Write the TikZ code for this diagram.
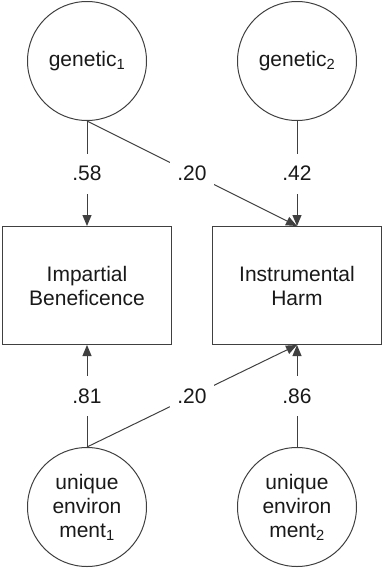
\documentclass[tikz,border=0pt]{standalone}
\usepackage{fontspec}
\setmainfont{Liberation Sans}
\usetikzlibrary{arrows.meta, positioning}

\begin{document}
\begin{tikzpicture}[
x=1pt, y=1pt,
node distance=105pt and 90pt,
>={Triangle[length=11pt, width=9pt]},
every node/.style={font=\fontsize{21}{24}\selectfont, text=black!90},
latent/.style={circle, draw=black!75, line width=1pt, minimum size=119pt, inner sep=0pt, align=center},
observed/.style={rectangle, draw=black!75, line width=1pt, minimum width=169pt, minimum height=118pt, align=center},
path/.style={->, draw=black!75, line width=1pt},
coef/.style={fill=white, text height=14pt, text depth=0pt, inner xsep=7pt, inner ysep=13pt}
]

\useasboundingbox (0,0) rectangle (383,-568);

% --- Nodes ---
\node[latent] (gen1) at (87,-61) {genetic\textsubscript{1}};
\node[latent, right=of gen1] (gen2) {genetic\textsubscript{2}};
\node[observed, below=of gen1] (ib) {Impartial\\Beneficence};
\node[observed, below=of gen2] (ih) {Instrumental\\Harm};
\node[latent, below=102pt of ib] (ue1) {unique\\environ\\ment\textsubscript{1}};
\node[latent, below=102pt of ih] (ue2) {unique\\environ\\ment\textsubscript{2}};

% --- Paths (top) ---
\draw[path] (gen1.south) -- (ib.north) node[coef, midway] {.58};
\draw[path] (gen1.south) -- (ih.north) node[coef, midway] {.20};
\draw[path] (gen2.south) -- (ih.north) node[coef, midway] {.42};

% --- Paths (bottom) ---
\draw[path] (ue1.north) -- (ib.south) node[coef, midway] {.81};
\draw[path] (ue1.north) -- (ih.south) node[coef, midway] {.20};
\draw[path] (ue2.north) -- (ih.south) node[coef, midway] {.86};

\end{tikzpicture}
\end{document}
